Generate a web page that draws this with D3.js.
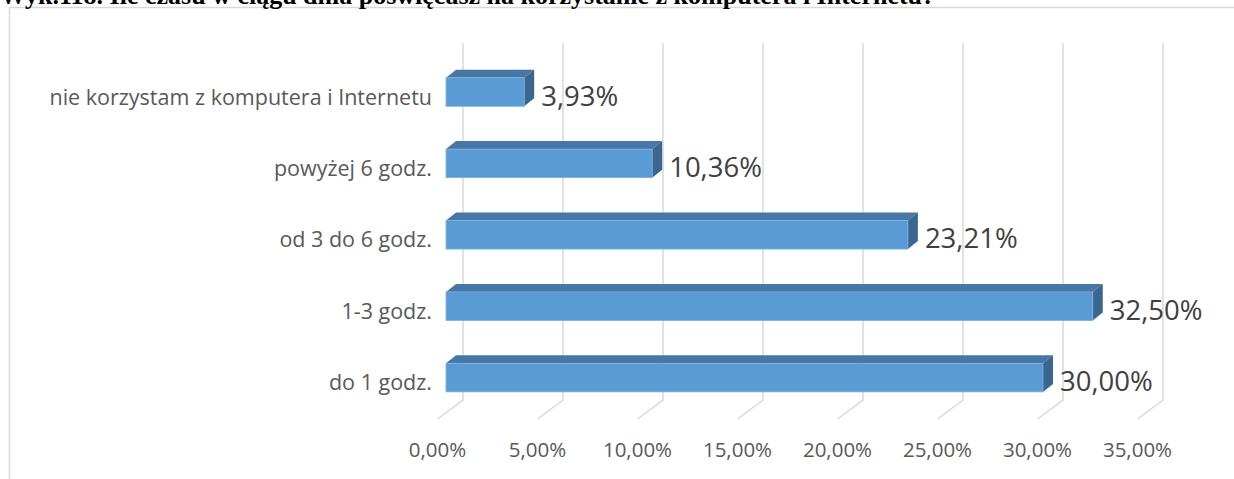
<!DOCTYPE html>
<html>
<head>
<meta charset="utf-8">
<script src="https://cdn.jsdelivr.net/npm/d3@7"></script>
<style>
  body { margin: 0; background: #fff; }
  svg { display: block; }
</style>
</head>
<body>
<svg id="chart" width="1234" height="479"></svg>
<script>
// categories top to bottom, as in the picture
const categories = [
  'nie korzystam z komputera i Internetu',
  'powyżej 6 godz.',
  'od 3 do 6 godz.',
  '1-3 godz.',
  'do 1 godz.'
];
const values = [3.93, 10.36, 23.21, 32.50, 30.00];
const ticks = [0, 5, 10, 15, 20, 25, 30, 35];
const title = 'Wyk.118. Ile czasu w ciągu dnia poświęcasz na korzystanie z komputera i Internetu?';

const fmt = v => v.toFixed(2).replace('.', ',') + '%';

function drawChart() {
  const svg = d3.select('#chart');

  // chart frame (only top + left show)
  svg.append('path')
    .attr('d', 'M9.5,479 V7.5 H1234')
    .attr('fill', 'none')
    .attr('stroke', '#d9d9d9')
    .attr('stroke-width', 1.5);

  // title, cut off at the top like in the scan
  svg.append('text')
    .attr('x', 0)
    .attr('y', 4)
    .style('font-family', '"Liberation Serif", serif')
    .style('font-weight', 'bold')
    .style('font-size', '26px')
    .style('fill', '#000')
    .text(title);

  // bar front scale, back wall scale and floor (front) scale
  const x = d3.scaleLinear().domain([0, 35]).range([446, 1142.5]);
  const xBack = d3.scaleLinear().domain([0, 35]).range([463, 1163]);
  const xFloor = d3.scaleLinear().domain([0, 35]).range([437.5, 1137.5]);

  const y = d3.scaleBand()
    .domain(categories)
    .range([56.3, 413.3])
    .paddingInner(0.6)
    .paddingOuter(0.3);

  const dx = 10, dy = -8;   // depth of the 3d bars
  const wallTop = 43, wallBottom = 400, floorFront = 419;

  // gridlines: back wall + floor diagonal
  svg.append('g').selectAll('path')
    .data(ticks)
    .enter().append('path')
    .attr('d', d => 'M' + xBack(d) + ',' + wallTop + ' V' + wallBottom + ' L' + xFloor(d) + ',' + floorFront)
    .attr('fill', 'none')
    .attr('stroke', '#d9d9d9')
    .attr('stroke-width', 1.5);

  // tick labels
  svg.append('g').selectAll('text')
    .data(ticks)
    .enter().append('text')
    .attr('x', d => xFloor(d))
    .attr('y', 450)
    .attr('dy', '0.35em')
    .attr('text-anchor', 'middle')
    .style('font-family', '"Open Sans", sans-serif')
    .style('font-size', '20.5px')
    .style('fill', '#595959')
    .text(d => fmt(d));

  const rows = categories.map((c, i) => ({ cat: c, v: values[i] }));
  const bh = y.bandwidth();

  const bars = svg.append('g').selectAll('g')
    .data(rows)
    .enter().append('g');

  // top face
  bars.append('path')
    .attr('d', d => {
      const x0 = x(0), x1 = x(d.v), t = y(d.cat);
      return 'M' + x0 + ',' + t + ' L' + (x0 + dx) + ',' + (t + dy) +
        ' L' + (x1 + dx) + ',' + (t + dy) + ' L' + x1 + ',' + t + 'Z';
    })
    .attr('fill', '#4677a6');

  // side face
  bars.append('path')
    .attr('d', d => {
      const x1 = x(d.v), t = y(d.cat);
      return 'M' + x1 + ',' + t + ' L' + (x1 + dx) + ',' + (t + dy) +
        ' L' + (x1 + dx) + ',' + (t + dy + bh) + ' L' + x1 + ',' + (t + bh) + 'Z';
    })
    .attr('fill', '#3a6690');

  // front face
  bars.append('rect')
    .attr('x', x(0))
    .attr('y', d => y(d.cat))
    .attr('width', d => x(d.v) - x(0))
    .attr('height', bh)
    .attr('fill', '#5b9bd5')
    .attr('stroke', '#7db0df')
    .attr('stroke-width', 0.8);

  // value labels
  bars.append('text')
    .attr('x', d => x(d.v) + dx + 7)
    .attr('y', d => y(d.cat) + bh / 2 + 4)
    .attr('dy', '0.35em')
    .style('font-family', '"Open Sans", sans-serif')
    .style('font-size', '27.5px')
    .style('fill', '#404040')
    .text(d => fmt(d.v));

  // category labels
  svg.append('g').selectAll('text')
    .data(categories)
    .enter().append('text')
    .attr('x', 432)
    .attr('y', d => y(d) + bh / 2 + 5)
    .attr('dy', '0.35em')
    .attr('text-anchor', 'end')
    .style('font-family', '"Open Sans", sans-serif')
    .style('font-size', '21.5px')
    .style('fill', '#595959')
    .text(d => d);
}

drawChart();
</script>
</body>
</html>
